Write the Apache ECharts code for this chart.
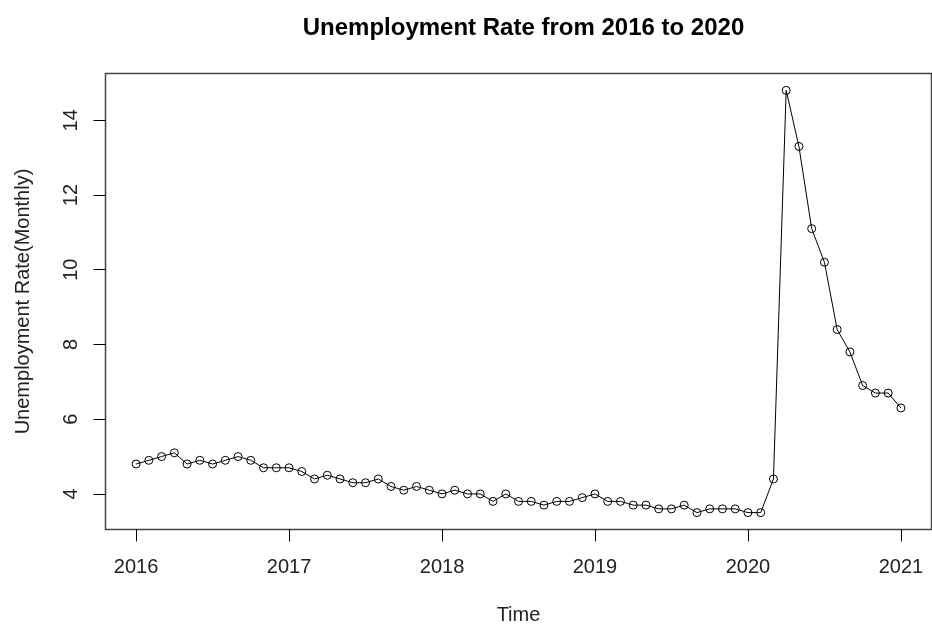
<!DOCTYPE html>
<html>
<head>
<meta charset="utf-8">
<script src="https://cdn.jsdelivr.net/npm/echarts@6/dist/echarts.min.js"></script>
<style>
html,body{margin:0;padding:0;background:#fff;}
#chart{width:932px;height:635px;}
</style>
</head>
<body>
<div id="chart"></div>
<script>
// Monthly periods (2016-01 .. 2021-01)
const months = [
  "2016-01","2016-02","2016-03","2016-04","2016-05","2016-06","2016-07","2016-08","2016-09","2016-10","2016-11","2016-12",
  "2017-01","2017-02","2017-03","2017-04","2017-05","2017-06","2017-07","2017-08","2017-09","2017-10","2017-11","2017-12",
  "2018-01","2018-02","2018-03","2018-04","2018-05","2018-06","2018-07","2018-08","2018-09","2018-10","2018-11","2018-12",
  "2019-01","2019-02","2019-03","2019-04","2019-05","2019-06","2019-07","2019-08","2019-09","2019-10","2019-11","2019-12",
  "2020-01","2020-02","2020-03","2020-04","2020-05","2020-06","2020-07","2020-08","2020-09","2020-10","2020-11","2020-12",
  "2021-01"
];
// Unemployment rate (monthly, %)
const rates = [
  4.8,4.9,5.0,5.1,4.8,4.9,4.8,4.9,5.0,4.9,4.7,4.7,
  4.7,4.6,4.4,4.5,4.4,4.3,4.3,4.4,4.2,4.1,4.2,4.1,
  4.0,4.1,4.0,4.0,3.8,4.0,3.8,3.8,3.7,3.8,3.8,3.9,
  4.0,3.8,3.8,3.7,3.7,3.6,3.6,3.7,3.5,3.6,3.6,3.6,
  3.5,3.5,4.4,14.8,13.3,11.1,10.2,8.4,7.8,6.9,6.7,6.7,
  6.3
];
const xTicks = [2016, 2017, 2018, 2019, 2020, 2021];
const yTicks = [4, 6, 8, 10, 12, 14];
const titleText = "Unemployment Rate from 2016 to 2020";
const xName = "Time";
const yName = "Unemployment Rate(Monthly)";

function toDecimalYear(s) {
  const [y, m] = s.split("-").map(Number);
  return y + (m - 1) / 12;
}
const seriesData = months.map((m, i) => [toDecimalYear(m), rates[i]]);

const xs = seriesData.map(d => d[0]);
const xMinD = Math.min(...xs), xMaxD = Math.max(...xs);
const yMinD = Math.min(...rates), yMaxD = Math.max(...rates);
const xPad = (xMaxD - xMinD) * 0.04, yPad = (yMaxD - yMinD) * 0.04;

const FONT = "'Liberation Sans', Arial, sans-serif";
const chart = echarts.init(document.getElementById('chart'), null, {renderer: 'canvas'});
chart.setOption({
  backgroundColor: '#fff',
  animation: false,
  title: {
    text: titleText,
    left: 518.5,
    textAlign: 'center',
    top: 11,
    textStyle: {fontFamily: FONT, fontSize: 24, fontWeight: 'bold', color: '#000'}
  },
  grid: {
    left: 105.5, right: 0.5, top: 73.5, bottom: 105.5,
    show: true, borderColor: '#444', borderWidth: 1.5, backgroundColor: 'transparent'
  },
  xAxis: {
    type: 'value',
    min: xMinD - xPad, max: xMaxD + xPad,
    axisLine: {show: false},
    splitLine: {show: false},
    axisTick: {show: true, inside: false, length: 12, lineStyle: {color: '#000', width: 1}, customValues: xTicks},
    axisLabel: {show: true, margin: 28, customValues: xTicks, fontFamily: FONT, fontSize: 20, color: '#222',
      formatter: v => String(Math.round(v))},
    name: xName, nameLocation: 'middle', nameGap: 76,
    nameTextStyle: {fontFamily: FONT, fontSize: 20, color: '#222'}
  },
  yAxis: {
    type: 'value',
    min: yMinD - yPad, max: yMaxD + yPad,
    axisLine: {show: false},
    splitLine: {show: false},
    axisTick: {show: true, inside: false, length: 12, lineStyle: {color: '#000', width: 1}, customValues: yTicks},
    axisLabel: {show: true, margin: 24, rotate: 90, customValues: yTicks, fontFamily: FONT, fontSize: 20, color: '#222',
      formatter: v => String(Math.round(v))},
    name: yName, nameLocation: 'middle', nameGap: 72, nameRotate: 90,
    nameTextStyle: {fontFamily: FONT, fontSize: 20, color: '#222'}
  },
  series: [{
    type: 'line',
    data: seriesData,
    symbol: 'circle',
    symbolSize: 8,
    showAllSymbol: true,
    lineStyle: {color: '#000', width: 1},
    itemStyle: {color: 'rgba(0,0,0,0)', borderColor: '#000', borderWidth: 1},
    emphasis: {disabled: true}
  }]
});
</script>
</body>
</html>
